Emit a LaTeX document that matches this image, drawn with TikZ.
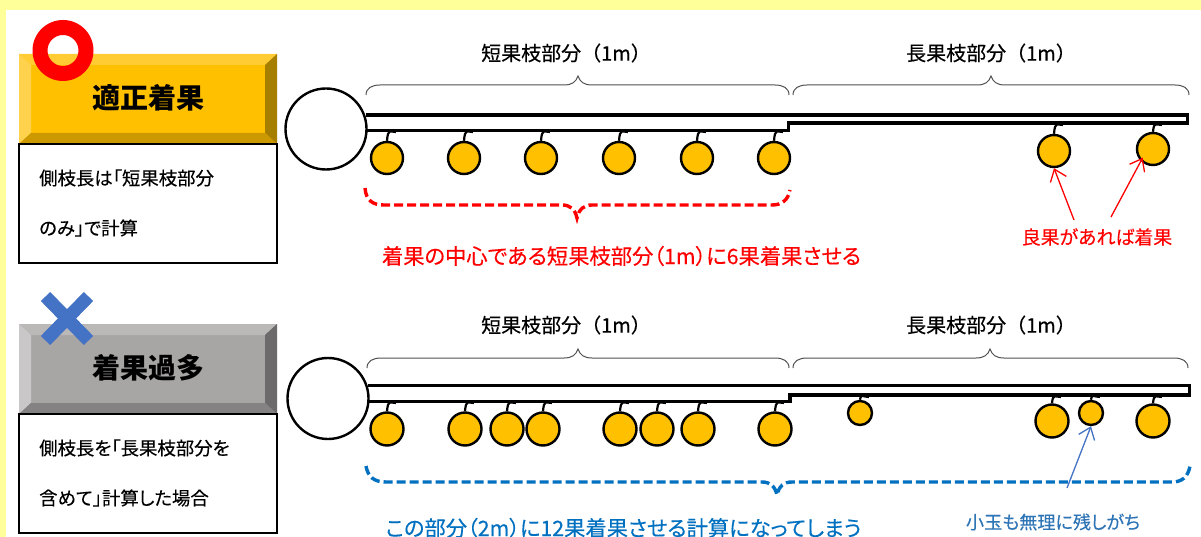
\documentclass[tikz,border=0pt]{standalone}
\usepackage{fontspec}
\setmainfont{Noto Sans CJK JP}[RawFeature=+palt,FakeBold=0.25]
\newfontfamily\jpfull{Noto Sans CJK JP}[FakeBold=0.25]
\newfontfamily\jptitle{Noto Sans CJK JP}
\usetikzlibrary{arrows.meta}
\definecolor{pageyellow}{HTML}{FFFF99}
\definecolor{gold}{HTML}{FFC000}
\definecolor{goldT}{HTML}{FFCD33}
\definecolor{goldL}{HTML}{FFD24D}
\definecolor{goldR}{HTML}{A67E00}
\definecolor{goldB}{HTML}{CC9900}
\definecolor{grayC}{HTML}{A8A5A5}
\definecolor{grayT}{HTML}{BBB8B8}
\definecolor{grayL}{HTML}{C9C7C7}
\definecolor{grayR}{HTML}{6C6A6A}
\definecolor{grayB}{HTML}{848282}
\definecolor{crossblue}{HTML}{4472C4}
\definecolor{dashblue}{HTML}{0070C0}
\definecolor{noteblue}{HTML}{2E75B6}
\definecolor{bracegray}{HTML}{505050}
\tikzset{
  x=1pt,y=-1pt,
  fruit/.style={circle,draw=black,line width=2.4pt,fill=gold,inner sep=0pt,minimum size=#1},
  stemline/.style={draw=black,line width=2.2pt},
  trunk/.style={circle,draw=black,line width=2.4pt,fill=white,inner sep=0pt,minimum size=81pt},
  branchline/.style={draw=black,line width=3.2pt,fill=white,line join=miter},
  bracket/.style={draw=bracegray,line width=1pt},
  dashbrace/.style={line width=3.4pt,dash pattern=on 9pt off 4pt,line cap=butt},
  sectionlabel/.style={font=\jpfull\fontsize{20}{20}\selectfont,text=black,inner sep=0pt},
  titlelabel/.style={font=\jptitle\bfseries\fontsize{28}{28}\selectfont,text=black,inner sep=0pt},
  panelbox/.style={draw=black,line width=2pt,fill=white},
  paneltext/.style={font=\fontsize{18.4}{50}\selectfont,text=black,align=left,anchor=west,inner sep=0pt},
  redlabel/.style={font=\fontsize{21.3}{21.3}\selectfont,text=red,inner sep=0pt},
  bluelabel/.style={font=\fontsize{21.3}{21.3}\selectfont,text=dashblue,inner sep=0pt},
  redarrow/.style={draw=red,line width=1.3pt,-{Straight Barb[length=11pt,width=17pt]}},
  bluearrow/.style={draw=crossblue,line width=1.3pt,-{Straight Barb[length=11pt,width=17pt]}},
}
% bevelled button: top y, centre, top, left, right, bottom colours
\newcommand\bevelbox[6]{%
  \fill[#2] (19,#1) rectangle (277,#1+90);
  \fill[#3] (19,#1) -- (277,#1) -- (265,#1+11) -- (31,#1+11) -- cycle;
  \fill[#4] (19,#1) -- (31,#1+11) -- (31,#1+79) -- (19,#1+90) -- cycle;
  \fill[#5] (277,#1) -- (265,#1+11) -- (265,#1+79) -- (277,#1+90) -- cycle;
  \fill[#6] (19,#1+90) -- (31,#1+79) -- (265,#1+79) -- (277,#1+90) -- cycle;
}
% curly bracket: left x, right x, tip x, end y
\newcommand\curly[4]{%
  \draw[bracket] (#1,#4) .. controls (#1,#4-7) and (#1+6,#4-10) .. (#1+14,#4-10)
    -- (#3-14,#4-10) .. controls (#3-6,#4-10) and (#3-2,#4-13) .. (#3,#4-19)
    .. controls (#3+2,#4-13) and (#3+6,#4-10) .. (#3+14,#4-10)
    -- (#2-14,#4-10) .. controls (#2-6,#4-10) and (#2,#4-7) .. (#2,#4);
}
% fruit with stem: name, x, y, diameter, y of branch underside
\newcommand\fruitat[5]{%
  \node[fruit=#4] (#1) at (#2,#3) {};
  \draw[stemline] (#1.north) .. controls (#2+1,#5-4) and (#2+3,#5) .. (#2+9,#5);
}
\begin{document}
\begin{tikzpicture}
\useasboundingbox (0,0) rectangle (1201,537);
\fill[pageyellow] (0,0) rectangle (1201,537);
\fill[white] (6,10) rectangle (1201,537);

% ---------- upper panel
\bevelbox{54}{gold}{goldT}{goldL}{goldR}{goldB}
\node[titlelabel] (t1) at (148,98) {適正着果};
\draw[panelbox] (19,144) rectangle (277,263);
\node[paneltext] (p1) at (39,203) {側枝長は「短果枝部分\\のみ」で計算};
\fill[red,even odd rule] (63,50.5) circle[radius=30.5] (63,50.5) circle[radius=15.5];

\node[sectionlabel] (s1) at (566,53) {短果枝部分（1m）};
\node[sectionlabel] (s2) at (991,53) {長果枝部分（1m）};
\curly{366}{789}{578}{95}
\curly{793}{1189}{991}{95}

\draw[branchline] (366,115) -- (1187.5,115) -- (1187.5,123) -- (788.5,123) -- (788.5,130.5) -- (366,130.5);
\node[trunk] (c1) at (326,129) {};
\fruitat{a1}{387}{158}{32pt}{132}
\fruitat{a2}{464}{158}{32pt}{132}
\fruitat{a3}{541}{158}{32pt}{132}
\fruitat{a4}{619}{158}{32pt}{132}
\fruitat{a5}{697}{158}{32pt}{132}
\fruitat{a6}{774}{158}{32pt}{132}
\fruitat{a7}{1054}{151}{32pt}{125}
\fruitat{a8}{1153}{149}{32pt}{125}

\draw[dashbrace,red] (365,188) .. controls (366,200) and (372,205) .. (384,205)
  -- (562,205) .. controls (570,205) and (575,209) .. (577,218)
  .. controls (579,209) and (584,205) .. (592,205)
  -- (772,205) .. controls (782,205) and (788,200) .. (790,190);
\node[redlabel] (r1) at (621.5,256) {着果の中心である短果枝部分（1m）に6果着果させる};
\node[redlabel,font=\fontsize{18.9}{18.9}\selectfont] (r2) at (1097,237) {良果があれば着果};
\coordinate (r1a) at (1074,220);
\coordinate (r2a) at (1111,217);
\draw[redarrow] (r1a) -- (a7.south);
\draw[redarrow,shorten >=-4pt] (r2a) -- (a8.south west);

% ---------- lower panel
\bevelbox{324}{grayC}{grayT}{grayL}{grayR}{grayB}
\node[titlelabel] (t2) at (148,368) {着果過多};
\draw[panelbox] (19,414) rectangle (277,533);
\node[paneltext] (p2) at (39,473) {側枝長を「長果枝部分を\\含めて」計算した場合};
\draw[crossblue,line width=13pt] (45.5,296.5) -- (88.5,340.5);
\draw[crossblue,line width=13pt] (88.5,296.5) -- (45.5,340.5);

\node[sectionlabel] (s3) at (566,325) {短果枝部分（1m）};
\node[sectionlabel] (s4) at (991,325) {長果枝部分（1m）};
\curly{367}{789}{578}{368}
\curly{793}{1188}{990}{368}

\draw[branchline] (368,385.7) -- (1189.5,385.7) -- (1189.5,395) -- (790,395) -- (790,401.7) -- (368,401.7);
\node[trunk] (c2) at (328,398.5) {};
\fruitat{b1}{387}{429}{33pt}{403}
\fruitat{b2}{465}{429}{33pt}{403}
\fruitat{b3}{507}{429}{33pt}{403}
\fruitat{b4}{543}{429}{33pt}{403}
\fruitat{b5}{620}{429}{33pt}{403}
\fruitat{b6}{657}{429}{33pt}{403}
\fruitat{b7}{698}{429}{33pt}{403}
\fruitat{b8}{775}{429}{33pt}{403}
\fruitat{b9}{860}{413}{24pt}{397}
\fruitat{b10}{1052}{421}{33pt}{397}
\fruitat{b11}{1091}{413}{24pt}{397}
\fruitat{b12}{1153}{421}{33pt}{397}

\draw[dashbrace,dashblue] (366,466) .. controls (368,477) and (374,482) .. (386,482)
  -- (762,482) .. controls (770,482) and (775,486) .. (777,495)
  .. controls (779,486) and (784,482) .. (792,482)
  -- (1172,482) .. controls (1182,482) and (1188,477) .. (1190,466);
\node[bluelabel] (b1t) at (623.5,528) {この部分（2m）に12果着果させる計算になってしまう};
\node[font=\fontsize{18.1}{18.1}\selectfont,text=noteblue,inner sep=0pt] (b2t) at (1053,522) {小玉も無理に残しがち};
\coordinate (b2a) at (1067,488);
\draw[bluearrow] (b2a) -- (b11.south);
\end{tikzpicture}
\end{document}
